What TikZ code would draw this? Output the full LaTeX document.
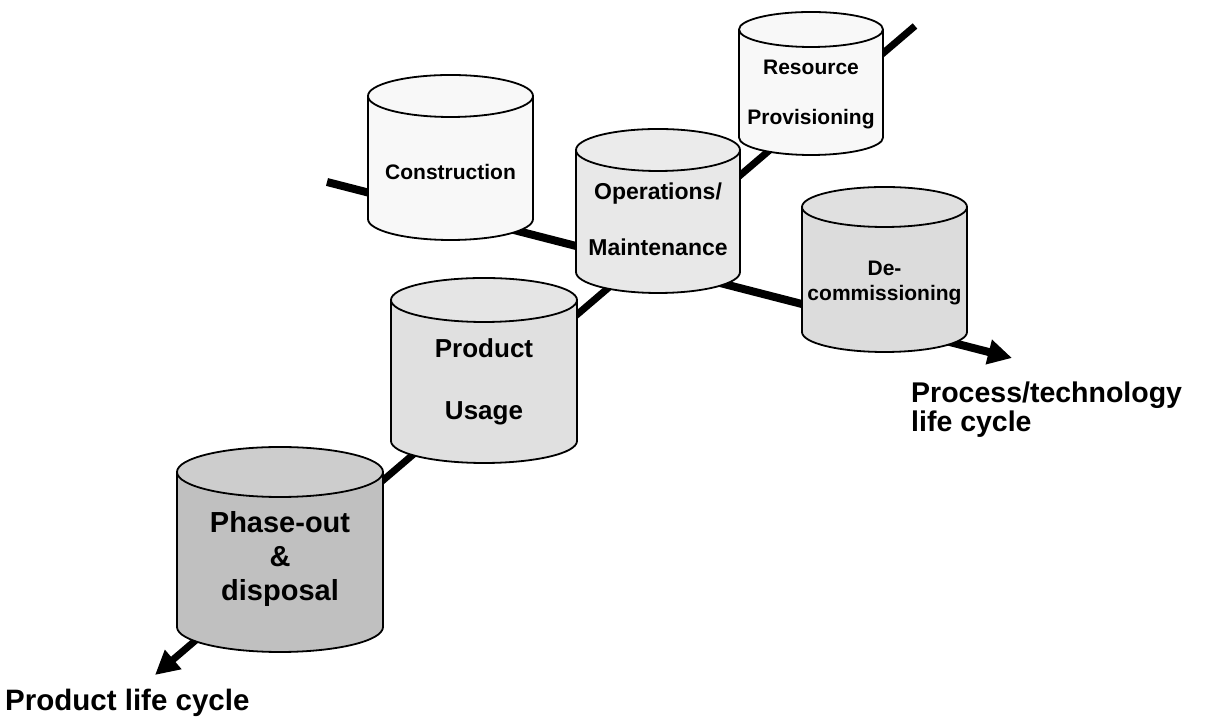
\documentclass[tikz,border=0pt]{standalone}
\usepackage{fontspec}
\setmainfont{Liberation Sans}
\usetikzlibrary{arrows.meta}
\definecolor{cWhite}{HTML}{F8F8F8}
\definecolor{cOpsBody}{HTML}{E8E8E8}
\definecolor{cOpsTop}{HTML}{EBEBEB}
\definecolor{cDecBody}{HTML}{DCDCDC}
\definecolor{cDecTop}{HTML}{E0E0E0}
\definecolor{cUseBody}{HTML}{E0E0E0}
\definecolor{cUseTop}{HTML}{E5E5E5}
\definecolor{cPhaseBody}{HTML}{C0C0C0}
\definecolor{cPhaseTop}{HTML}{CDCDCD}
\newcommand\fs[2]{\bfseries\fontsize{#1}{#2}\selectfont}
\newcommand\mycyl[7]{%
  \filldraw[cylline, fill=#6] (#1-#2,#3) -- (#1-#2,#4)
    arc[start angle=180, end angle=360, x radius=#2, y radius=#5] -- (#1+#2,#3);
  \filldraw[cylline, fill=#7] (#1,#3) ellipse[x radius=#2, y radius=#5];
}
\tikzset{
  cylline/.style={draw=black, line width=1.8pt, line join=round},
  axisline/.style={line width=8pt, -{Triangle[length=24pt,width=24pt]}},
  cyltext/.style={inner sep=0pt, align=center, text=black},
  axislabel/.style={inner sep=0pt, align=left, text=black},
}
\begin{document}
\begin{tikzpicture}[x=1pt,y=1pt]
\useasboundingbox (0,0) rectangle (1207,719);
% axis end points
\coordinate (procstart) at (327,537);
\coordinate (procend) at (1012,361);
\coordinate (prodstart) at (915,693);
\coordinate (prodend) at (155,44);
\draw[axisline] (procstart) -- (procend);
\draw[axisline, line width=7pt] (prodstart) -- (prodend);
% cylinders
\mycyl{450.5}{82.5}{623}{500}{21}{cWhite}{cWhite}
\mycyl{811}{72}{689.5}{581.5}{17.5}{cWhite}{cWhite}
\mycyl{658}{82}{569}{447}{21}{cOpsBody}{cOpsTop}
\mycyl{884.5}{82.5}{512}{387}{20}{cDecBody}{cDecTop}
\mycyl{484}{93}{419}{278}{22}{cUseBody}{cUseTop}
\mycyl{280}{103}{247}{92}{25}{cPhaseBody}{cPhaseTop}
% texts
\node[cyltext, anchor=base, font=\fs{21}{25}] (construction) at (450.5,539) {Construction};
\node[cyltext, font=\fs{21}{50}] (resource) at (811,624.3) {Resource\\Provisioning};
\node[cyltext, font=\fs{23}{56}] (operations) at (658,499.4) {Operations/\\Maintenance};
\node[cyltext, font=\fs{21}{25}] (decommissioning) at (884.5,435.5) {De-\\commissioning};
\node[cyltext, font=\fs{26}{62}] (usage) at (484,337) {Product\\Usage};
\node[cyltext, font=\fs{29}{34}] (phaseout) at (280,159.7) {Phase-out\\\&\\disposal};
% axis labels
\node[axislabel, anchor=base west, font=\fs{29.5}{29.5}] (prodlabel) at (5,8) {Product life cycle};
\node[axislabel, anchor=north west, font=\fs{28.5}{28.5}] (proclabel) at (911,337) {Process/technology\\life cycle};
\end{tikzpicture}
\end{document}
